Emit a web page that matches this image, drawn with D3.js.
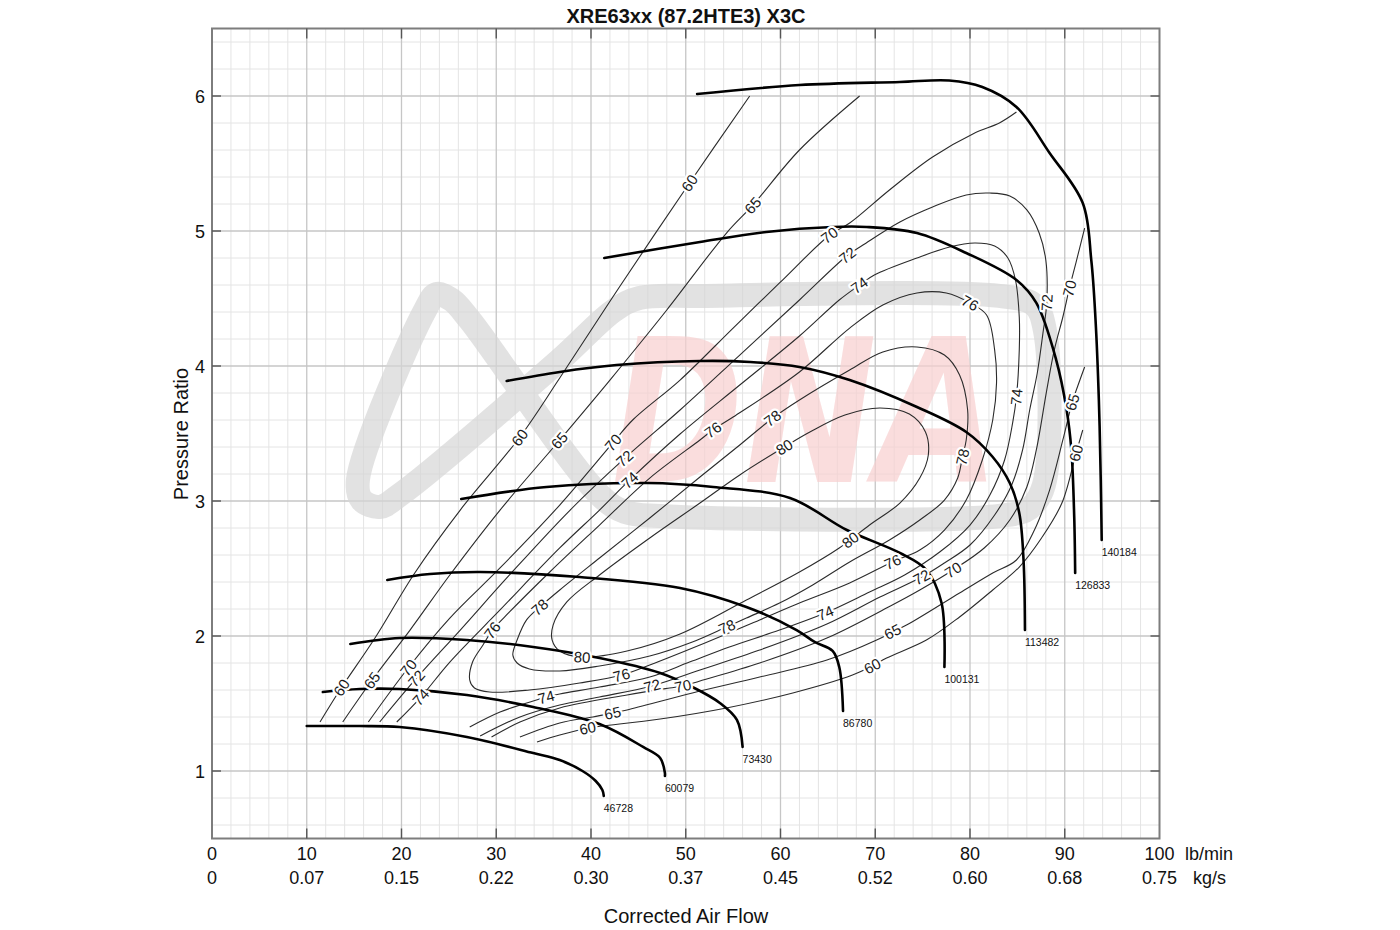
<!DOCTYPE html>
<html><head><meta charset="utf-8">
<script src="https://cdn.jsdelivr.net/npm/d3@7"></script>
<style>
body{margin:0;background:#fff;}
svg{display:block;font-family:"Liberation Sans",Arial,Helvetica,sans-serif;}
</style>
</head><body>
<svg id="c" width="1400" height="930"></svg>
<script>
// ---------------- DATA ----------------
const chartTitle = "XRE63xx (87.2HTE3) X3C";
const xTitle = "Corrected Air Flow";
const yTitle = "Pressure Ratio";
const flowTicks = [0,10,20,30,40,50,60,70,80,90,100];
const kgsLabels = ["0","0.07","0.15","0.22","0.30","0.37","0.45","0.52","0.60","0.68","0.75"];
const prTicks = [1,2,3,4,5,6];
const unitLb = "lb/min";
const unitKg = "kg/s";

// speed lines [lb/min, pressure ratio]
const speedNames = ["46728","60079","73430","86780","100131","113482","126833","140184"];
const speed46728 = [[10.0,1.333],[15.6,1.333],[19.8,1.326],[26.9,1.252],[33.9,1.133],[36.7,1.081],[39.1,1.0],[40.5,0.926],[41.2,0.859],[41.35,0.815]];
const speed60079 = [[11.7,1.585],[15.6,1.607],[19.8,1.607],[26.9,1.563],[33.9,1.474],[40.9,1.348],[45.5,1.178],[47.3,1.096],[47.8,0.985],[47.8,0.963]];
const speed73430 = [[14.6,1.941],[19.8,1.985],[26.9,1.970],[33.9,1.919],[40.9,1.837],[47.3,1.726],[50.7,1.622],[53.6,1.504],[55.4,1.378],[56.0,1.178]];
const speed86780 = [[18.5,2.415],[23.0,2.459],[28.3,2.474],[38.8,2.437],[49.4,2.356],[56.4,2.215],[61.7,2.044],[63.6,1.956],[65.5,1.889],[66.2,1.770],[66.6,1.444]];
const speed100131 = [[26.3,3.015],[35.3,3.104],[45.9,3.133],[52.9,3.104],[61.0,3.022],[67.0,2.785],[72.6,2.615],[75.4,2.489],[77.0,2.244],[77.3,1.770]];
const speed113482 = [[31.1,3.889],[36.7,3.956],[42.7,4.007],[51.5,4.037],[56.8,4.030],[62.0,3.993],[67.3,3.896],[74.4,3.696],[79.6,3.511],[82.4,3.326],[84.2,3.133],[85.2,2.911],[85.65,2.563],[85.8,2.044]];
const speed126833 = [[41.4,4.800],[51.5,4.919],[58.5,4.993],[65.5,5.030],[69.1,5.030],[74.4,4.985],[79.6,4.837],[84.9,4.637],[87.0,4.467],[89.1,4.044],[90.2,3.674],[90.7,3.378],[91.0,2.881],[91.1,2.467]];
const speed140184 = [[51.2,6.015],[62.0,6.081],[72.6,6.104],[77.8,6.115],[81.3,6.067],[84.9,5.919],[88.4,5.578],[91.9,5.207],[92.8,4.785],[93.25,4.341],[93.6,3.748],[93.8,3.156],[93.9,2.711]];

// efficiency islands [lb/min, pressure ratio]
const eff60a = [[11.4,1.363],[13.5,1.600],[17.2,1.985],[21.4,2.467],[26.2,2.933],[32.5,3.474],[36.7,3.911],[43.0,4.585],[50.4,5.356],[56.75,6.0]];
const eff60b = [[34.3,1.215],[36.7,1.267],[39.7,1.319],[41.2,1.333],[47.3,1.385],[54.3,1.467],[61.3,1.578],[67.6,1.711],[69.7,1.778],[71.2,1.837],[75.4,1.970],[78.9,2.141],[82.4,2.341],[85.2,2.511],[87.55,2.726],[89.7,2.985],[91.2,3.356],[91.9,3.526]];
const eff65a = [[13.8,1.363],[16.9,1.674],[20.9,2.044],[25.1,2.452],[30.4,2.933],[36.7,3.452],[42.0,3.896],[48.0,4.415],[54.3,4.985],[57.1,5.193],[62.0,5.600],[68.35,6.0]];
const eff65b = [[32.5,1.252],[36.7,1.356],[40.2,1.400],[42.3,1.430],[43.8,1.452],[50.7,1.578],[57.8,1.696],[64.9,1.822],[70.15,1.970],[71.8,2.030],[73.3,2.081],[78.9,2.319],[82.4,2.467],[84.9,2.563],[86.8,2.785],[88.4,3.081],[89.8,3.452],[90.8,3.733],[91.6,3.896],[92.1,3.993]];
const eff70a = [[16.5,1.363],[20.7,1.763],[25.1,2.133],[30.4,2.504],[36.7,2.970],[42.3,3.430],[44.4,3.600],[49.4,3.896],[55.0,4.281],[59.9,4.615],[65.2,4.970],[67.3,5.059],[71.5,5.304],[76.05,5.548],[80.5,5.726],[83.1,5.800],[84.9,5.881]];
const eff70b = [[29.5,1.252],[32.5,1.363],[36.7,1.467],[43.8,1.563],[48.3,1.615],[49.7,1.630],[51.5,1.667],[57.8,1.800],[64.9,1.985],[71.8,2.230],[74.7,2.341],[78.2,2.489],[81.5,2.652],[84.2,2.859],[86.0,3.104],[87.0,3.378],[88.1,3.822],[88.9,4.119],[89.8,4.363],[90.5,4.578],[91.2,4.770],[92.1,5.022]];
const eff72 = [[17.7,1.363],[21.6,1.689],[26.2,2.044],[31.4,2.452],[37.8,2.933],[43.6,3.319],[49.4,3.674],[55.7,4.081],[62.0,4.489],[67.1,4.822],[68.7,4.896],[72.6,5.067],[76.05,5.178],[79.6,5.267],[82.1,5.281],[84.2,5.259],[86.0,5.156],[87.3,4.985],[88.0,4.785],[88.1,4.467],[87.7,4.244],[87.1,3.948],[86.3,3.674],[85.55,3.378],[84.4,3.119],[82.6,2.896],[80.0,2.674],[77.3,2.541],[74.9,2.437],[70.5,2.289],[64.9,2.089],[57.8,1.896],[51.5,1.748],[46.4,1.630],[40.9,1.548],[36.7,1.489],[32.5,1.400],[28.3,1.259]];
const eff74 = [[19.5,1.363],[22.05,1.548],[25.1,1.807],[30.4,2.193],[36.7,2.652],[40.9,2.933],[44.1,3.156],[49.4,3.496],[55.7,3.859],[62.0,4.222],[66.2,4.489],[68.35,4.600],[69.9,4.674],[74.4,4.800],[77.85,4.881],[80.5,4.911],[82.6,4.889],[84.0,4.800],[84.8,4.637],[85.2,4.363],[85.2,4.119],[84.9,3.770],[84.5,3.578],[83.65,3.304],[82.1,3.044],[80.0,2.822],[76.8,2.622],[73.1,2.452],[69.4,2.326],[64.7,2.170],[59.9,2.044],[54.6,1.919],[50.4,1.807],[46.2,1.696],[40.9,1.622],[36.7,1.570],[35.3,1.548],[33.9,1.519],[30.4,1.437],[27.2,1.326]];
const eff76 = [[27.2,1.674],[27.5,1.807],[28.6,1.933],[29.6,2.044],[31.4,2.178],[35.65,2.474],[40.9,2.822],[46.2,3.170],[51.5,3.452],[52.85,3.526],[55.0,3.622],[62.0,3.956],[67.3,4.281],[70.8,4.452],[74.4,4.541],[77.5,4.541],[80.0,4.467],[81.75,4.378],[82.6,4.119],[82.8,3.874],[82.4,3.600],[81.3,3.304],[79.6,3.007],[77.3,2.785],[74.7,2.637],[71.8,2.548],[67.3,2.393],[62.0,2.244],[57.8,2.119],[51.5,1.933],[46.2,1.785],[43.25,1.711],[38.8,1.652],[33.5,1.600],[29.3,1.585],[27.7,1.615]];
const eff78 = [[31.75,1.859],[32.2,1.970],[33.2,2.119],[34.6,2.215],[36.7,2.341],[40.9,2.578],[46.2,2.874],[51.5,3.178],[55.7,3.415],[59.2,3.615],[62.0,3.748],[67.3,3.970],[70.8,4.104],[74.4,4.141],[77.3,4.081],[78.9,3.933],[79.75,3.674],[79.6,3.452],[79.2,3.326],[78.7,3.170],[77.3,3.007],[74.7,2.859],[71.5,2.711],[67.3,2.548],[63.4,2.378],[59.9,2.244],[56.4,2.133],[54.3,2.067],[50.7,1.956],[46.2,1.852],[40.9,1.778],[36.7,1.741],[33.5,1.756],[32.2,1.800]];
const eff80 = [[39.1,1.844],[43.8,1.889],[49.4,2.015],[56.4,2.267],[62.0,2.474],[66.2,2.652],[69.4,2.822],[72.6,2.985],[74.7,3.170],[75.6,3.341],[75.3,3.511],[73.6,3.644],[70.5,3.689],[66.8,3.637],[63.1,3.511],[60.4,3.400],[55.7,3.193],[51.5,2.985],[46.2,2.726],[40.9,2.452],[37.45,2.252],[36.0,2.081],[35.9,1.970],[36.7,1.889]];

// efficiency labels: [text, lb/min, PR, contour id]
const effLabels = [
 ["60",14.0,1.600,"60a"],["60",32.5,3.474,"60a"],["60",50.4,5.356,"60a"],["60",39.7,1.319,"60b"],["60",69.7,1.778,"60b"],["60",91.2,3.356,"60b"],
 ["65",16.9,1.674,"65a"],["65",36.7,3.452,"65a"],["65",57.1,5.193,"65a"],["65",42.3,1.430,"65b"],["65",71.8,2.030,"65b"],["65",90.8,3.733,"65b"],
 ["70",20.7,1.763,"70a"],["70",42.3,3.430,"70a"],["70",65.2,4.970,"70a"],["70",49.7,1.630,"70b"],["70",78.2,2.489,"70b"],["70",90.5,4.578,"70b"],
 ["72",21.6,1.689,"72"],["72",43.6,3.319,"72"],["72",67.1,4.822,"72"],["72",88.1,4.467,"72"],["72",74.9,2.437,"72"],["72",46.4,1.630,"72"],
 ["74",22.05,1.548,"74"],["74",44.1,3.156,"74"],["74",68.35,4.600,"74"],["74",84.9,3.770,"74"],["74",64.7,2.170,"74"],["74",35.3,1.548,"74"],
 ["76",29.6,2.044,"76"],["76",52.85,3.526,"76"],["76",80.0,4.467,"76"],["76",71.8,2.548,"76"],["76",43.25,1.711,"76"],
 ["78",34.6,2.215,"78"],["78",59.2,3.615,"78"],["78",79.2,3.326,"78"],["78",54.3,2.067,"78"],
 ["80",39.1,1.844,"80"],["80",60.4,3.400,"80"],["80",67.3,2.711,"80"]
];

// faint logo watermark outline [lb/min, PR]
const watermark = [[83.1,4.519],[51.5,4.519],[45.15,4.504],[42.5,4.415],[36.7,4.044],[19.8,3.044],[17.7,2.956],[15.8,3.007],[15.4,3.156],[22.5,4.415],[23.7,4.533],[25.3,4.489],[27.2,4.341],[40.9,3.044],[43.6,2.919],[47.3,2.889],[83.1,2.889],[86.3,2.948],[87.8,3.119],[87.9,4.267],[86.8,4.452]];
const watermarkText = "DNA";

// ---------------- CHART ----------------
const speeds = [speed46728,speed60079,speed73430,speed86780,speed100131,speed113482,speed126833,speed140184];
const contours = [
 {id:"60a",pts:eff60a},{id:"60b",pts:eff60b},{id:"65a",pts:eff65a},{id:"65b",pts:eff65b},
 {id:"70a",pts:eff70a},{id:"70b",pts:eff70b},{id:"72",pts:eff72},{id:"74",pts:eff74},
 {id:"76",pts:eff76,closed:true},{id:"78",pts:eff78,closed:true},{id:"80",pts:eff80,closed:true}
];

const x = d3.scaleLinear().domain([0,100]).range([212,1159.5]);
const y = d3.scaleLinear().domain([0.5,6.5]).range([838.5,28.5]);
const svg = d3.select("#c");
const X0 = x(0), X1 = x(100), Y0 = y(0.5), Y1 = y(6.5);

svg.append("rect").attr("width",1400).attr("height",930).attr("fill","#fff");

// grid
const grid = svg.append("g");
const minorX = d3.range(0,101,2).filter(v=>v%10!==0);
const minorY = d3.range(6,65,2).map(v=>v/10).filter(v=>Math.abs(v-Math.round(v))>1e-6);
grid.selectAll(".mx").data(minorX).join("line").attr("x1",d=>x(d)).attr("x2",d=>x(d)).attr("y1",Y0).attr("y2",Y1).attr("stroke","#e4e4e4").attr("stroke-width",1);
grid.selectAll(".my").data(minorY).join("line").attr("y1",d=>y(d)).attr("y2",d=>y(d)).attr("x1",X0).attr("x2",X1).attr("stroke","#e4e4e4").attr("stroke-width",1);
grid.selectAll(".Mx").data(flowTicks.slice(1,-1)).join("line").attr("x1",d=>x(d)).attr("x2",d=>x(d)).attr("y1",Y0).attr("y2",Y1).attr("stroke","#c6c6c6").attr("stroke-width",1.3);
grid.selectAll(".My").data(prTicks).join("line").attr("y1",d=>y(d)).attr("y2",d=>y(d)).attr("x1",X0).attr("x2",X1).attr("stroke","#c6c6c6").attr("stroke-width",1.3);

// watermark
const wm = svg.append("g").attr("opacity",0.7);
wm.append("path").attr("d",d3.line().x(d=>x(d[0])).y(d=>y(d[1])).curve(d3.curveCatmullRomClosed.alpha(0.5))(watermark))
  .attr("fill","none").attr("stroke","#d6d6d6").attr("stroke-width",24).attr("stroke-linejoin","round");
wm.append("text").attr("x",x(42.2)).attr("y",y(3.14)).text(watermarkText)
  .attr("font-family","DejaVu Sans, sans-serif").attr("font-weight","bold").attr("font-style","italic")
  .attr("font-size",200).attr("textLength",x(83.1)-x(42.2)).attr("lengthAdjust","spacingAndGlyphs")
  .attr("fill","#f8d0d0");

// efficiency contours
const lineOpen = d3.line().x(d=>x(d[0])).y(d=>y(d[1])).curve(d3.curveCatmullRom.alpha(0.5));
const lineClosed = d3.line().x(d=>x(d[0])).y(d=>y(d[1])).curve(d3.curveCatmullRomClosed.alpha(0.5));
const effG = svg.append("g");
const paths = {};
contours.forEach(c=>{
  paths[c.id] = effG.append("path").attr("d",(c.closed?lineClosed:lineOpen)(c.pts))
    .attr("fill","none").attr("stroke","#2b2b2b").attr("stroke-width",1.1);
});

// speed lines
const spG = svg.append("g");
speeds.forEach((s,i)=>{
  spG.append("path").attr("d",lineOpen(s)).attr("fill","none").attr("stroke","#000").attr("stroke-width",2.6).attr("stroke-linecap","round");
  const e = s[s.length-1];
  spG.append("text").attr("x",x(e[0])).attr("y",y(e[1])+16).text(speedNames[i])
    .attr("font-size",10.5).attr("fill","#111");
});

// efficiency labels
const labG = svg.append("g");
effLabels.forEach(([t,f,p,id])=>{
  const node = paths[id].node(); const L = node.getTotalLength();
  const tx = x(f), ty = y(p); let best = 0, bd = 1e12;
  for(let l=0;l<=L;l+=1.5){const pt=node.getPointAtLength(l);const d=(pt.x-tx)**2+(pt.y-ty)**2;if(d<bd){bd=d;best=l;}}
  const p0=node.getPointAtLength(Math.max(0,best-5)), p1=node.getPointAtLength(Math.min(L,best+5)), pc=node.getPointAtLength(best);
  let a = Math.atan2(p1.y-p0.y,p1.x-p0.x)*180/Math.PI; if(a>90)a-=180; if(a<-90)a+=180;
  labG.append("text").attr("transform",`translate(${pc.x},${pc.y}) rotate(${a})`)
    .attr("text-anchor","middle").attr("dy","0.36em").attr("font-size",15).text(t)
    .attr("fill","#1a1a1a").attr("stroke","#fff").attr("stroke-width",4.5).attr("paint-order","stroke").attr("stroke-linejoin","round");
});

// frame and ticks
const ax = svg.append("g");
ax.append("rect").attr("x",X0).attr("y",Y1).attr("width",X1-X0).attr("height",Y0-Y1).attr("fill","none").attr("stroke","#7d7d7d").attr("stroke-width",2);
const inner = flowTicks.slice(1,-1);
ax.selectAll(".tb").data(inner).join("line").attr("x1",d=>x(d)).attr("x2",d=>x(d)).attr("y1",Y0).attr("y2",Y0-10).attr("stroke","#555").attr("stroke-width",1.4);
ax.selectAll(".tt").data(inner).join("line").attr("x1",d=>x(d)).attr("x2",d=>x(d)).attr("y1",Y1).attr("y2",Y1+10).attr("stroke","#555").attr("stroke-width",1.4);
ax.selectAll(".tl").data(prTicks).join("line").attr("y1",d=>y(d)).attr("y2",d=>y(d)).attr("x1",X0).attr("x2",X0+9).attr("stroke","#555").attr("stroke-width",1.4);
ax.selectAll(".tr").data(prTicks).join("line").attr("y1",d=>y(d)).attr("y2",d=>y(d)).attr("x1",X1).attr("x2",X1-9).attr("stroke","#555").attr("stroke-width",1.4);

ax.selectAll(".yl").data(prTicks).join("text").attr("x",X0-7).attr("y",d=>y(d)+6.5).attr("text-anchor","end").attr("font-size",18).attr("fill","#111").text(d=>d);
ax.selectAll(".xl").data(flowTicks).join("text").attr("x",d=>x(d)).attr("y",860).attr("text-anchor","middle").attr("font-size",18).attr("fill","#111").text(d=>d);
ax.selectAll(".kl").data(flowTicks).join("text").attr("x",d=>x(d)).attr("y",884).attr("text-anchor","middle").attr("font-size",18).attr("fill","#111").text((d,i)=>kgsLabels[i]);
ax.append("text").attr("x",1185).attr("y",860).attr("font-size",18).attr("fill","#111").text(unitLb);
ax.append("text").attr("x",1193).attr("y",884).attr("font-size",18).attr("fill","#111").text(unitKg);

svg.append("text").attr("x",686).attr("y",23).attr("text-anchor","middle").attr("font-size",20).attr("font-weight","bold").attr("fill","#111").text(chartTitle);
svg.append("text").attr("x",686).attr("y",923).attr("text-anchor","middle").attr("font-size",20).attr("fill","#111").text(xTitle);
svg.append("text").attr("transform","translate(188,434) rotate(-90)").attr("text-anchor","middle").attr("font-size",20).attr("fill","#111").text(yTitle);
</script>
</body></html>
